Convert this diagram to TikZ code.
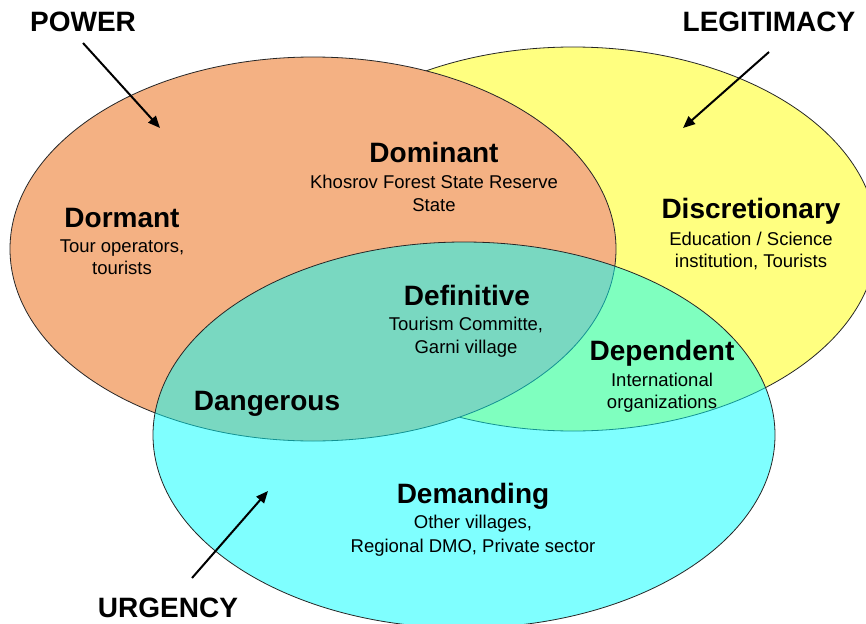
\documentclass[tikz,border=0pt]{standalone}
\usepackage{fontspec}
\setmainfont{Liberation Sans}
\usetikzlibrary{arrows.meta}
\definecolor{pwr}{RGB}{244,177,131}
\definecolor{leg}{RGB}{255,255,128}
\definecolor{urg}{RGB}{0,255,255}
\begin{document}
\begin{tikzpicture}[x=1pt,y=-1pt,
  venn/.style={draw=black!85, line width=0.8pt},
  ttl/.style={font=\fontsize{28}{30}\selectfont\bfseries, anchor=base, inner sep=0pt},
  sub/.style={font=\fontsize{18.5}{20}\selectfont, anchor=base, inner sep=0pt},
  big/.style={font=\fontsize{28}{30}\selectfont\bfseries, anchor=base, inner sep=0pt, text depth=0pt},
  arr/.style={line width=2pt, -{Triangle[length=12pt,width=10pt]}}]
\useasboundingbox (0,0) rectangle (866,623);
\clip (0,0) rectangle (866,623);
\fill[white] (0,0) rectangle (866,623);
% circles
\draw[venn, fill=leg] (573,239) ellipse [x radius=304pt, y radius=192pt];
\draw[venn, fill=pwr] (313,249) ellipse [x radius=303pt, y radius=192pt];
\draw[venn, fill=urg, fill opacity=0.5] (464,435) ellipse [x radius=311pt, y radius=193pt];
% big labels
\node[big] (power) at (83,32) {POWER};
\node[big] (legit) at (769,32) {LEGITIMACY};
\node[big] (urgency) at (168,617) {URGENCY};
% arrows
\coordinate (pa) at (83,43);
\coordinate (pb) at (160,128);
\coordinate (la) at (769,52);
\coordinate (lb) at (683,128);
\coordinate (ua) at (192,578);
\coordinate (ub) at (268,491);
\draw[arr] (pa) -- (pb);
\draw[arr] (la) -- (lb);
\draw[arr] (ua) -- (ub);
% regions
\node[ttl] (dorm) at (122,227) {Dormant};
\node[sub] (dorm1) at (122,252) {Tour operators,};
\node[sub] (dorm2) at (122,274) {tourists};
\node[ttl] (domi) at (434,162) {Dominant};
\node[sub] (domi1) at (434,188) {Khosrov Forest State Reserve};
\node[sub] (domi2) at (434,211) {State};
\node[ttl] (disc) at (751,218) {Discretionary};
\node[sub] (disc1) at (751,245) {Education / Science};
\node[sub] (disc2) at (751,267) {institution, Tourists};
\node[ttl] (defi) at (467,305) {Definitive};
\node[sub] (defi1) at (466,330) {Tourism Committe,};
\node[sub] (defi2) at (466,353) {Garni village};
\node[ttl] (depe) at (662,360) {Dependent};
\node[sub] (depe1) at (662,386) {International};
\node[sub] (depe2) at (662,408) {organizations};
\node[ttl] (dang) at (267,410) {Dangerous};
\node[ttl] (dema) at (473,503) {Demanding};
\node[sub] (dema1) at (473,528) {Other villages,};
\node[sub] (dema2) at (473,552) {Regional DMO, Private sector};
\end{tikzpicture}
\end{document}
